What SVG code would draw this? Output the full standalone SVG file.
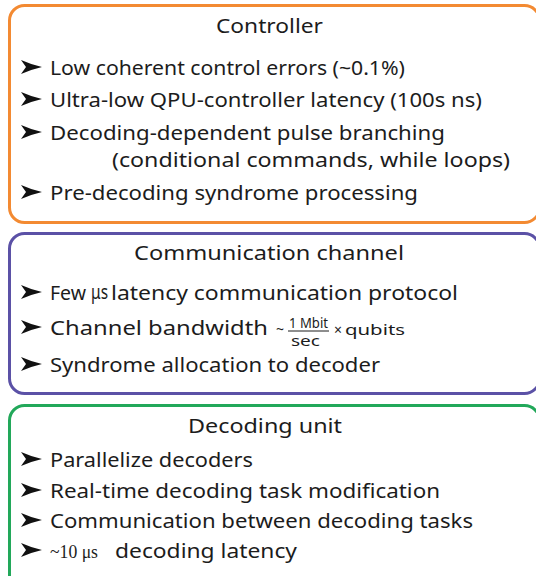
<svg xmlns="http://www.w3.org/2000/svg" width="536" height="576" viewBox="0 0 536 576">
<style>
.box{fill:#fff;stroke-width:3}
.t{font-family:"Noto Sans","Liberation Sans",sans-serif;font-size:20px;fill:#1c1c1c}
.h{font-family:"Noto Sans","Liberation Sans",sans-serif;font-size:20px;fill:#1c1c1c}
.s{font-family:"Liberation Serif",serif;font-size:19px;fill:#1c1c1c}
.f{font-family:"Noto Sans","Liberation Sans",sans-serif;font-size:14px;fill:#1c1c1c}
.b{fill:#111}
</style>
<defs>
<path id="bul" class="b" d="M21,-7 Q31,-2.5 42,0 Q31,2.5 21,7 L26,0 Z"/>
</defs>
<rect width="536" height="576" fill="#fff"/>
<g id="controller">
<rect class="box" x="9.5" y="5.5" width="530" height="217" rx="15" stroke="#F38A32"/>
<text class="h" x="216" y="33" textLength="107" lengthAdjust="spacingAndGlyphs">Controller</text>
<use href="#bul" x="0" y="67"/>
<text class="t" x="50" y="75" textLength="355" lengthAdjust="spacingAndGlyphs">Low coherent control errors (~0.1%)</text>
<use href="#bul" x="0" y="99"/>
<text class="t" x="50" y="107" textLength="432" lengthAdjust="spacingAndGlyphs">Ultra-low QPU-controller latency (100s ns)</text>
<use href="#bul" x="0" y="132"/>
<text class="t" x="50" y="140" textLength="395" lengthAdjust="spacingAndGlyphs">Decoding-dependent pulse branching</text>
<text class="t" x="112" y="167" textLength="398" lengthAdjust="spacingAndGlyphs">(conditional commands, while loops)</text>
<use href="#bul" x="0" y="192"/>
<text class="t" x="50" y="200" textLength="368" lengthAdjust="spacingAndGlyphs">Pre-decoding syndrome processing</text>
</g>
<g id="communication">
<rect class="box" x="9.5" y="233.5" width="530" height="160" rx="15" stroke="#5B51A6"/>
<text class="h" x="134" y="260" textLength="270" lengthAdjust="spacingAndGlyphs">Communication channel</text>
<use href="#bul" x="0" y="292"/>
<text class="t" x="50" y="300" textLength="36" lengthAdjust="spacingAndGlyphs">Few</text>
<text class="t" x="91" y="299" font-size="15" fill="#333" textLength="17" lengthAdjust="spacingAndGlyphs">μs</text>
<text class="t" x="111" y="300" textLength="347" lengthAdjust="spacingAndGlyphs">latency communication protocol</text>
<use href="#bul" x="0" y="327"/>
<text class="t" x="50" y="335" textLength="218" lengthAdjust="spacingAndGlyphs">Channel bandwidth</text>
<text class="f" x="276" y="334" font-size="16">~</text>
<text class="f" x="289" y="328" textLength="39" lengthAdjust="spacingAndGlyphs">1 Mbit</text>
<line x1="288" y1="331" x2="329" y2="331" stroke="#1c1c1c" stroke-width="1"/>
<text class="f" x="291" y="346" textLength="29" lengthAdjust="spacingAndGlyphs">sec</text>
<text class="f" x="334" y="335" font-size="15">×</text>
<text class="f" x="345" y="335" font-size="16" textLength="60" lengthAdjust="spacingAndGlyphs">qubits</text>
<use href="#bul" x="0" y="364"/>
<text class="t" x="50" y="372" textLength="330" lengthAdjust="spacingAndGlyphs">Syndrome allocation to decoder</text>
</g>
<g id="decoding">
<rect class="box" x="9.5" y="405.5" width="530" height="190" rx="15" stroke="#22A85A"/>
<text class="h" x="188" y="433" textLength="154" lengthAdjust="spacingAndGlyphs">Decoding unit</text>
<use href="#bul" x="0" y="459"/>
<text class="t" x="50" y="467" textLength="203" lengthAdjust="spacingAndGlyphs">Parallelize decoders</text>
<use href="#bul" x="0" y="490"/>
<text class="t" x="50" y="498" textLength="390" lengthAdjust="spacingAndGlyphs">Real-time decoding task modification</text>
<use href="#bul" x="0" y="520"/>
<text class="t" x="50" y="528" textLength="423" lengthAdjust="spacingAndGlyphs">Communication between decoding tasks</text>
<use href="#bul" x="0" y="550"/>
<text class="s" x="50" y="558" textLength="48" lengthAdjust="spacingAndGlyphs">~10 μs</text>
<text class="t" x="115" y="558" textLength="182" lengthAdjust="spacingAndGlyphs">decoding latency</text>
</g>
</svg>
